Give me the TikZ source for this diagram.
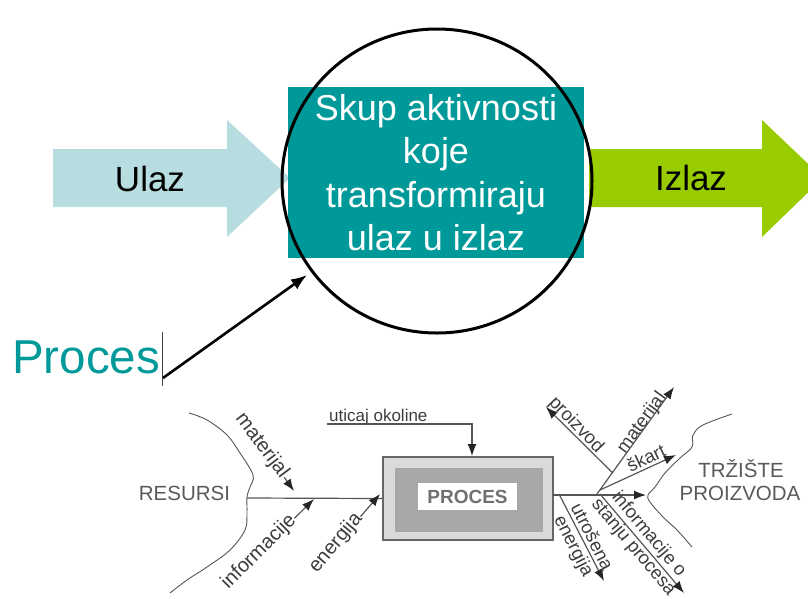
\documentclass[tikz,border=0pt]{standalone}
\usepackage{fontspec}
\setmainfont{Liberation Sans}
\usetikzlibrary{arrows.meta,calc}

\definecolor{tealbox}{HTML}{009999}
\definecolor{inarrow}{HTML}{B7DDE1}
\definecolor{outarrow}{HTML}{99CC00}
\definecolor{ink}{HTML}{555555}
\definecolor{textink}{HTML}{3C3C3C}
\definecolor{boxlight}{HTML}{DADADA}
\definecolor{boxdark}{HTML}{A8A8A8}
\definecolor{boxtext}{HTML}{707070}

\begin{document}
\begin{tikzpicture}[x=1pt,y=-1pt,
  bigtxt/.style={font=\fontsize{36}{43.5}\selectfont, inner sep=0pt},
  smalltxt/.style={font=\fontsize{18.5}{20}\selectfont, text=textink, inner sep=0.5pt, align=center},
  sidetxt/.style={font=\fontsize{20}{22}\selectfont, text=textink, inner sep=0.3pt, fill=white},
  headtxt/.style={font=\fontsize{20.5}{23}\selectfont, text=textink!85, inner sep=0pt},
  flow/.style={draw=ink, line width=1.2pt, -{Latex[length=12pt,width=9pt,color=black!85]}},
  edge/.style={draw=ink, line width=0.9pt}]
\useasboundingbox (0,0) rectangle (808,598);

% ---------- input / output block arrows ----------
\fill[inarrow] (53,149) -- (227,149) -- (227,120) -- (290,178) -- (227,237)
  -- (227,207) -- (53,207) -- cycle;
\begin{scope}
  \clip (0,0) rectangle (808,598);
  \fill[outarrow] (589,149) -- (762,149) -- (762,120) -- (823,178) -- (762,237)
    -- (762,207) -- (589,207) -- cycle;
\end{scope}
\node[bigtxt, font=\fontsize{35}{40}\selectfont, anchor=base] (ulaz) at (150,191) {Ulaz};
\node[bigtxt, font=\fontsize{35}{40}\selectfont, anchor=base] (izlaz) at (691,190) {Izlaz};

% ---------- transformation box and circle ----------
\fill[tealbox] (288,87) rectangle (584,258);
\node[bigtxt, text=white, anchor=base] (t1) at (436,120) {Skup aktivnosti};
\node[bigtxt, text=white, anchor=base] (t2) at (436,163) {koje};
\node[bigtxt, text=white, anchor=base] (t3) at (436,207) {transformiraju};
\node[bigtxt, text=white, anchor=base] (t4) at (436,250) {ulaz u izlaz};
\draw[line width=3pt] (437,181) ellipse [x radius=155pt, y radius=152pt];

% ---------- "Proces" label with pointer ----------
\node[font=\fontsize{47.5}{50}\selectfont, text=tealbox, anchor=base west, inner sep=0pt]
  (proc) at (12,373) {Proces};
\coordinate (pstart) at (163,378);
\coordinate (ptip) at (307,275);
\draw[line width=2.6pt, -{Latex[length=16pt,width=12pt]}] (pstart) -- (ptip);
\coordinate (curA) at (162,332);
\coordinate (curB) at (162,386);
\draw[line width=0.6pt, black!75] (curA) -- (curB);

% ---------- process schema ----------
\node[draw=ink!90, line width=1.2pt, fill=boxlight, minimum width=170pt,
  minimum height=83pt, inner sep=0pt] (box) at (468,498.5) {};
\node[fill=boxdark, minimum width=148pt, minimum height=64pt, inner sep=0pt]
  (boxin) at (469,500) {};
\node[fill=white, minimum width=99pt, minimum height=27pt, inner sep=0pt,
  font=\bfseries\fontsize{19}{20}\selectfont, text=boxtext] (plabel) at (467.5,496.5) {PROCES};

% resources boundary
\draw[edge] plot[smooth, tension=0.6] coordinates {(189,413) (207,420) (227,435)
  (240,453) (253,475) (250,487) (247,497) (247,513) (245,530) (230,550) (207,567)
  (187,580) (170,593)};
\node[headtxt, anchor=base] (res) at (184.5,500) {RESURSI};

% main input line
\coordinate (inStart) at (247,498);
\draw[edge, line width=1.2pt] (inStart) -- (box.west);

% environment influence
\node[font=\fontsize{17}{18}\selectfont, text=textink, anchor=base west, inner sep=0pt]
  (env) at (329,421) {uticaj okoline};
\coordinate (envA) at (327,424);
\coordinate (envB) at (472,424);
\coordinate (envC) at (472,456);
\draw[flow] (envA) -- (envB) -- (envC);

% inputs
\coordinate (matLa) at (247,425);
\coordinate (matLb) at (294,491);
\draw[flow] (matLa) -- (matLb);
\node[sidetxt, rotate=-53] (matL) at (262,446) {materijal};

\coordinate (infLa) at (231,581);
\coordinate (infLb) at (314,499);
\draw[flow] (infLa) -- (infLb);
\node[sidetxt, rotate=45] (infL) at (259,552) {informacije};

\coordinate (enLa) at (318,566);
\coordinate (enLb) at (380,494);
\draw[flow] (enLa) -- (enLb);
\node[sidetxt, rotate=50] (enL) at (336,543) {energija};

% outputs
\coordinate (outA) at (553,495);
\coordinate (outB) at (646,495);
\draw[flow] (outA) -- (outB);

\coordinate (fan) at (597,494);
\coordinate (matRb) at (674,387);
\draw[flow] (fan) -- (matRb);
\node[smalltxt, rotate=54] (matR) at (642,423) {materijal};

\coordinate (prodA) at ($(fan)!0.2!(matRb)$);
\coordinate (prodB) at (546,407);
\draw[flow] (prodA) -- (prodB);
\node[smalltxt, rotate=-46] (prod) at (576,425) {proizvod};

\coordinate (skA) at (600,490);
\coordinate (skB) at (676,455);
\draw[flow] (skA) -- (skB);
\node[smalltxt, rotate=25] (sk) at (646,458) {škart};

\coordinate (infRa) at (600,494);
\coordinate (infRb) at (684,593);
\draw[flow] (infRa) -- (infRb);
\node[smalltxt, rotate=-50] (infR) at (641,541) {informacije o\\stanju procesa};

\coordinate (enRa) at (559,494);
\coordinate (enRb) at (604,581);
\draw[flow] (enRa) -- (enRb);
\node[smalltxt, rotate=-63] (enR) at (582,542) {utrošena\\energija};

% market boundary
\draw[edge] plot[smooth, tension=0.6] coordinates {(732,414) (703,425) (693,435)
  (692,447) (680,458) (665,473) (655,487) (648,495) (650,502) (663,517) (677,530)
  (692,547)};
\node[headtxt, anchor=base] (mk1) at (741,477) {TRŽIŠTE};
\node[headtxt, anchor=base] (mk2) at (740,500) {PROIZVODA};
\end{tikzpicture}
\end{document}
